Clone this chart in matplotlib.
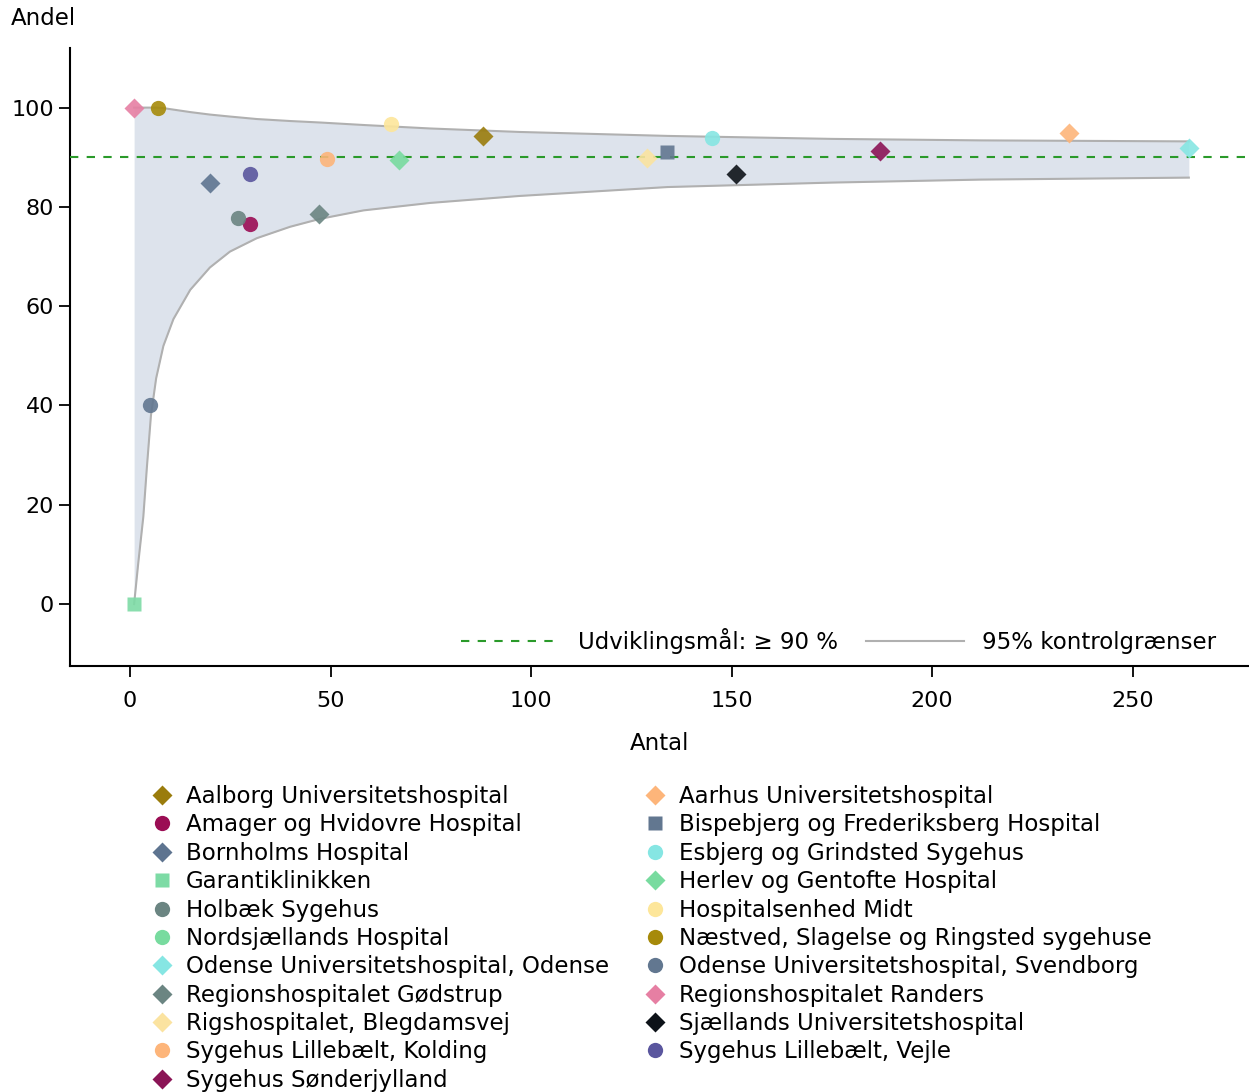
import matplotlib.pyplot as plt
from matplotlib.lines import Line2D

# hospitals, in legend order (alphabetical, filled row by row)
hospitals = [
    'Aalborg Universitetshospital', 'Aarhus Universitetshospital',
    'Amager og Hvidovre Hospital', 'Bispebjerg og Frederiksberg Hospital',
    'Bornholms Hospital', 'Esbjerg og Grindsted Sygehus',
    'Garantiklinikken', 'Herlev og Gentofte Hospital',
    'Holbæk Sygehus', 'Hospitalsenhed Midt',
    'Nordsjællands Hospital', 'Næstved, Slagelse og Ringsted sygehuse',
    'Odense Universitetshospital, Odense', 'Odense Universitetshospital, Svendborg',
    'Regionshospitalet Gødstrup', 'Regionshospitalet Randers',
    'Rigshospitalet, Blegdamsvej', 'Sjællands Universitetshospital',
    'Sygehus Lillebælt, Kolding', 'Sygehus Lillebælt, Vejle',
    'Sygehus Sønderjylland',
]
antal = [88, 234, 30, 134, 20, 145, 1, 67, 27, 65, float('nan'), 7,
         264, 5, 47, 1, 129, 151, 49, 30, 187]
andel = [94.2, 94.8, 76.6, 91.0, 84.9, 93.8, 0.0, 89.5, 77.8, 96.8, float('nan'), 100.0,
         91.9, 40.0, 78.6, 100.0, 89.9, 86.7, 89.7, 86.6, 91.3]
markers = ['D', 'D', 'o', 's', 'D', 'o', 's', 'D', 'o', 'o', 'o', 'o',
           'D', 'o', 'D', 'D', 'D', 'D', 'o', 'o', 'D']
colors = ['#9a7c0c', '#fdb57a', '#9b0d54', '#627790', '#5e7490', '#86e6e3',
          '#7ddba5', '#78db9f', '#6b8582', '#fde69a', '#78db9f', '#a68a0a',
          '#86e6e3', '#627790', '#6b8582', '#e67fa3', '#fbe3a0', '#0d1218',
          '#fdb57a', '#5a569e', '#8b1456']

# 95% control limits
ctrl_n = [1, 2, 3.3, 4.2, 5.2, 6.5, 8.3, 10.8, 15, 19.9, 24.9, 31.6, 39.9,
          47.4, 58.2, 74.8, 97, 134, 175, 212, 264]
ctrl_lower = [0.0, 8.0, 17.6, 27.7, 38.0, 45.5, 52.0, 57.4, 63.3, 67.8, 71.0, 73.7, 76.0,
              77.6, 79.3, 80.8, 82.2, 84.0, 84.9, 85.5, 85.9]
ctrl_upper = [100.0, 100.0, 100.0, 100.0, 100.0, 100.0, 99.9, 99.6, 99.1, 98.6, 98.2, 97.7, 97.3,
              97.0, 96.5, 95.8, 95.1, 94.3, 93.7, 93.4, 93.2]
target = 90

plt.rcParams['font.family'] = 'DejaVu Sans'

fig = plt.figure(figsize=(12.49, 10.92), dpi=100)
ax = fig.add_axes([0.056, 0.39, 0.944, 0.566])

ax.fill_between(ctrl_n, ctrl_lower, ctrl_upper, color='#dde3ec', lw=0, zorder=1)
ax.plot(ctrl_n, ctrl_lower, color='#b0b0b0', lw=1.5, zorder=2)
ax.plot(ctrl_n, ctrl_upper, color='#b0b0b0', lw=1.5, zorder=2)
ax.axhline(target, color='#2a9a2a', lw=1.5, ls=(0, (4, 4)), zorder=3)

handles = []
for name, n, a, m, c in zip(hospitals, antal, andel, markers, colors):
    size = 11 if m == 'o' else 10
    ax.plot(n, a, marker=m, color=c, ms=size, ls='none', alpha=0.9,
            mec='none', zorder=4)
    handles.append(Line2D([], [], marker=m, color=c, ms=size,
                          ls='none', mec='none', label=name))

ax.set_xlim(-15, 279)
ax.set_ylim(-12.5, 112)
ax.set_xticks([0, 50, 100, 150, 200, 250])
ax.set_yticks([0, 20, 40, 60, 80, 100])
ax.tick_params(labelsize=16, length=8, width=1.3)
ax.tick_params(axis='x', pad=10)
for s in ['top', 'right']:
    ax.spines[s].set_visible(False)
for s in ['left', 'bottom']:
    ax.spines[s].set_linewidth(1.5)
ax.set_xlabel('Antal', fontsize=16.5, labelpad=15)

fig.text(0.009, 0.983, 'Andel', fontsize=16.5, va='center', ha='left')

line_handles = [
    Line2D([], [], color='#2a9a2a', lw=1.5, ls=(0, (4, 4))),
    Line2D([], [], color='#b0b0b0', lw=1.5),
]
ax.legend(line_handles, ['Udviklingsmål: ≥ 90 %', '95% kontrolgrænser'],
          loc='lower right', ncol=2, frameon=False, fontsize=16.5,
          handlelength=4.3, columnspacing=1.2, bbox_to_anchor=(0.99, -0.013))

# reorder so the legend reads row by row
ordered = handles[0::2] + handles[1::2]
fig.legend(handles=ordered, labels=[h.get_label() for h in ordered],
           loc='upper left', bbox_to_anchor=(0.104, 0.3), ncol=2,
           frameon=False, fontsize=16.5, handletextpad=0.55, columnspacing=1.5,
           labelspacing=0.235, handlelength=1.0)

fig.savefig('out.png', dpi=100)
